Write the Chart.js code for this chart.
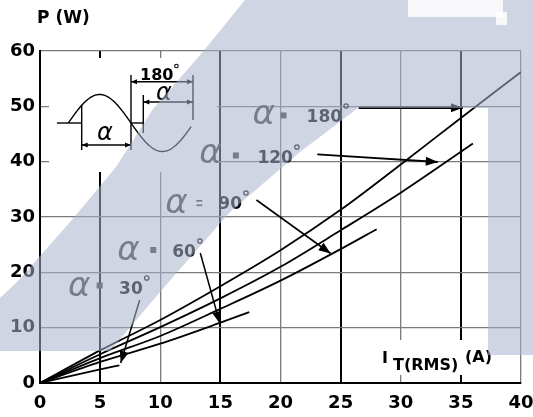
<!DOCTYPE html>
<html>
<head>
<meta charset="utf-8">
<title>Thyristor power loss</title>
<script src="https://cdn.jsdelivr.net/npm/chart.js@4.4.1/dist/chart.umd.min.js"></script>
<style>
  html, body { margin: 0; padding: 0; background: #fff; }
  #wrap { width: 533px; height: 417px; }
</style>
</head>
<body>
<div id="wrap"><canvas id="lossChart" width="533" height="417"></canvas></div>
<script>
// Axis ticks
const currentTicks = [0, 5, 10, 15, 20, 25, 30, 35, 40];
const powerTicks = [0, 10, 20, 30, 40, 50, 60];

// Curves: I_T(RMS) in A, P in W
const current180 = [0, 5, 10, 15, 20, 25, 30, 35, 40];
const power180 = [0, 5.9, 11.4, 17.5, 24.0, 31.3, 39.5, 47.9, 56.2];
const current120 = [0, 5, 10, 15, 20, 25, 30, 35, 36];
const power120 = [0, 5.2, 10.1, 15.3, 21.0, 27.6, 34.4, 41.8, 43.3];
const current90 = [0, 5, 10, 15, 20, 25, 28];
const power90 = [0, 4.5, 8.5, 13.4, 18.5, 24.2, 27.8];
const current60 = [0, 5, 10, 15, 17.4];
const power60 = [0, 3.8, 7.1, 10.9, 12.8];
const current30 = [0, 5, 6.6];
const power30 = [0, 2.45, 3.2];

const angleNames = ['180°', '120°', '90°', '60°', '30°'];

// Callouts (in axis units): where the alpha, separator, number sit and where the arrow points
const callouts = [
  { text: '180', alpha: [17.67, 46.8], sep: [20.25, 48.35], num: [22.17, 47.17], from: [26.5, 49.75], to: [35.17, 49.75], lw: 2.6 },
  { text: '120', alpha: [13.25, 39.76], sep: [16.29, 41.12], num: [18.08, 39.76], from: [23.06, 41.33], to: [33.08, 39.94], lw: 1.8 },
  { text: '90', alpha: [10.42, 30.72], sep: [13.25, 32.53], eq: true, num: [14.83, 31.45], from: [18.0, 33.07], to: [24.17, 23.4], lw: 1.6 },
  { text: '60', alpha: [6.42, 22.23], sep: [9.42, 24.04], num: [11.0, 22.77], from: [13.33, 23.5], to: [14.96, 10.75], lw: 1.5 },
  { text: '30', alpha: [2.33, 15.72], sep: [4.96, 17.62], num: [6.58, 16.09], from: [8.29, 15.0], to: [6.71, 3.6], lw: 1.5 }
];

// Watermark band (canvas pixels)
const bandOutline = [[0,298],[17,282],[71,221],[116,167],[153,109],[201,54],[245,0],[533,0],[533,355],[488,355],[488,108],[358,108],[300,152],[230,212],[160,292],[110,351],[0,351]];

function toPoints(xs, ys) {
  return xs.map((x, i) => ({ x: x, y: ys[i] }));
}

function arrowHead(ctx, x1, y1, x2, y2, len, half) {
  const a = Math.atan2(y2 - y1, x2 - x1);
  ctx.beginPath();
  ctx.moveTo(x2, y2);
  ctx.lineTo(x2 - len * Math.cos(a) + half * Math.sin(a), y2 - len * Math.sin(a) - half * Math.cos(a));
  ctx.lineTo(x2 - len * Math.cos(a) - half * Math.sin(a), y2 - len * Math.sin(a) + half * Math.cos(a));
  ctx.closePath();
  ctx.fill();
}

function dimLine(ctx, xa, xb, y) {
  ctx.beginPath();
  ctx.moveTo(xa, y);
  ctx.lineTo(xb, y);
  ctx.stroke();
  arrowHead(ctx, xb, y, xa, y, 6, 2.5);
  arrowHead(ctx, xa, y, xb, y, 6, 2.5);
}

function seg(ctx, x1, y1, x2, y2) {
  ctx.beginPath();
  ctx.moveTo(x1, y1);
  ctx.lineTo(x2, y2);
  ctx.stroke();
}

// Little waveform sketch in the upper-left corner of the plot
function drawInset(ctx, area) {
  const ox = area.left, oy = area.top;
  ctx.save();
  ctx.fillStyle = '#fff';
  ctx.fillRect(ox + 9, oy + 7, 168, 114);

  ctx.strokeStyle = '#000';
  ctx.fillStyle = '#000';
  ctx.lineWidth = 1.4;

  const x0 = ox + 28.3, half = 62.7, base = oy + 72, amp = 28.5;
  ctx.beginPath();
  for (let t = 0; t <= 1.97; t += 0.01) {
    const x = x0 + t * half;
    const y = base - amp * Math.sin(t * Math.PI);
    if (t === 0) ctx.moveTo(x, y); else ctx.lineTo(x, y);
  }
  ctx.stroke();

  seg(ctx, ox + 17, base, ox + 41.7, base);
  seg(ctx, ox + 91, base, ox + 103.3, base);
  seg(ctx, ox + 41.7, oy + 54, ox + 41.7, oy + 99);
  seg(ctx, ox + 91, oy + 24, ox + 91, oy + 99);
  seg(ctx, ox + 103.3, oy + 44, ox + 103.3, oy + 82);
  seg(ctx, ox + 153, oy + 24, ox + 153, oy + 69);

  dimLine(ctx, ox + 41.7, ox + 91, oy + 94);
  dimLine(ctx, ox + 103.3, ox + 153, oy + 51);
  dimLine(ctx, ox + 91, ox + 153, oy + 30.7);

  ctx.font = 'italic 24px "DejaVu Sans"';
  ctx.textAlign = 'left';
  ctx.textBaseline = 'alphabetic';
  ctx.fillText('α', ox + 57, oy + 89);
  ctx.fillText('α', ox + 116, oy + 49);

  ctx.font = 'bold 16px "DejaVu Sans"';
  ctx.fillText('180', ox + 100, oy + 29);
  const w = ctx.measureText('180').width;
  ctx.beginPath();
  ctx.lineWidth = 1.1;
  ctx.arc(ox + 100 + w + 3, oy + 15, 1.8, 0, 2 * Math.PI);
  ctx.stroke();
  ctx.restore();
}

function drawCallouts(chart) {
  const ctx = chart.ctx;
  const X = v => chart.scales.x.getPixelForValue(v);
  const Y = v => chart.scales.y.getPixelForValue(v);
  ctx.save();
  ctx.textAlign = 'left';
  ctx.textBaseline = 'alphabetic';
  callouts.forEach(c => {
    ctx.fillStyle = '#3c3c3c';
    ctx.font = 'italic 34px "DejaVu Sans"';
    ctx.fillText('α', X(c.alpha[0]), Y(c.alpha[1]));
    if (c.eq) {
      ctx.fillRect(X(c.sep[0]) - 3, Y(c.sep[1]) - 3, 6, 1.6);
      ctx.fillRect(X(c.sep[0]) - 3, Y(c.sep[1]) + 1.5, 6, 1.6);
    } else {
      ctx.fillRect(X(c.sep[0]) - 3, Y(c.sep[1]) - 3, 6, 6);
    }
    ctx.fillStyle = '#000';
    ctx.font = 'bold 17px "DejaVu Sans"';
    const nx = X(c.num[0]), ny = Y(c.num[1]);
    ctx.fillText(c.text, nx, ny);
    const w = ctx.measureText(c.text).width;
    ctx.strokeStyle = '#000';
    ctx.lineWidth = 1.2;
    ctx.beginPath();
    ctx.arc(nx + w + 4, ny - 16, 2.2, 0, 2 * Math.PI);
    ctx.stroke();

    const x1 = X(c.from[0]), y1 = Y(c.from[1]), x2 = X(c.to[0]), y2 = Y(c.to[1]);
    ctx.lineWidth = c.lw;
    seg(ctx, x1, y1, x2, y2);
    arrowHead(ctx, x1, y1, x2, y2, 12, 4.5);
  });

  // axis titles
  const area = chart.chartArea;
  ctx.fillStyle = '#fff';
  ctx.fillRect(area.right - 143, area.bottom - 43, 122, 35);
  ctx.fillStyle = '#000';
  ctx.font = 'bold 16px "DejaVu Sans"';
  ctx.fillText('I', area.right - 139, area.bottom - 20);
  ctx.fillText('T(RMS)', area.right - 128, area.bottom - 13);
  ctx.fillText('(A)', area.right - 56, area.bottom - 21);
  ctx.font = 'bold 17px "DejaVu Sans"';
  ctx.fillText('P (W)', 37, 23);
  ctx.restore();
}

function drawWatermark(ctx) {
  ctx.save();
  ctx.fillStyle = 'rgba(170, 178, 205, 0.55)';
  ctx.beginPath();
  bandOutline.forEach((p, i) => (i === 0 ? ctx.moveTo(p[0], p[1]) : ctx.lineTo(p[0], p[1])));
  ctx.closePath();
  ctx.fill();
  ctx.fillStyle = 'rgba(255, 255, 255, 0.85)';
  ctx.fillRect(408, 0, 95, 17);
  ctx.fillRect(496, 12, 11, 13);
  ctx.restore();
}

const decorPlugin = {
  id: 'decor',
  beforeDatasetsDraw(chart) { drawInset(chart.ctx, chart.chartArea); },
  afterDatasetsDraw(chart) { drawCallouts(chart); },
  afterDraw(chart) { drawWatermark(chart.ctx); }
};

const series = [
  [current180, power180], [current120, power120], [current90, power90],
  [current60, power60], [current30, power30]
];

const gridColor = (ctx) => (ctx.tick && ctx.tick.value % 10 === 0 ? '#7a7a7a' : '#000');
const gridWidth = (ctx) => (ctx.tick && ctx.tick.value % 10 === 0 ? 1.3 : 2);

new Chart(document.getElementById('lossChart'), {
  type: 'scatter',
  data: {
    datasets: series.map((s, i) => ({
      label: 'α = ' + angleNames[i],
      data: toPoints(s[0], s[1]),
      showLine: true,
      borderColor: '#000',
      borderWidth: 1.8,
      pointRadius: 0,
      cubicInterpolationMode: 'monotone'
    }))
  },
  options: {
    responsive: false,
    animation: false,
    devicePixelRatio: 1,
    layout: { padding: { left: 0, top: 51, right: 12, bottom: 0 } },
    plugins: { legend: { display: false }, tooltip: { enabled: false } },
    scales: {
      x: {
        type: 'linear', min: 0, max: 40,
        afterBuildTicks: (axis) => { axis.ticks = currentTicks.map(v => ({ value: v })); },
        afterFit: (axis) => { axis.height = 34; axis.paddingRight = 0; axis.paddingLeft = 0; },
        ticks: { color: '#000', padding: 10, font: { family: 'DejaVu Sans', size: 18, weight: 'bold' } },
        grid: { color: gridColor, lineWidth: gridWidth, drawTicks: false },
        border: { color: '#000', width: 2 }
      },
      y: {
        type: 'linear', min: 0, max: 60,
        afterBuildTicks: (axis) => { axis.ticks = powerTicks.map(v => ({ value: v })); },
        afterFit: (axis) => { axis.width = 40; },
        ticks: { color: '#000', padding: 5, font: { family: 'DejaVu Sans', size: 18, weight: 'bold' } },
        grid: { color: gridColor, lineWidth: gridWidth, drawTicks: false },
        border: { color: '#000', width: 2 }
      }
    }
  },
  plugins: [decorPlugin]
});
</script>
</body>
</html>
